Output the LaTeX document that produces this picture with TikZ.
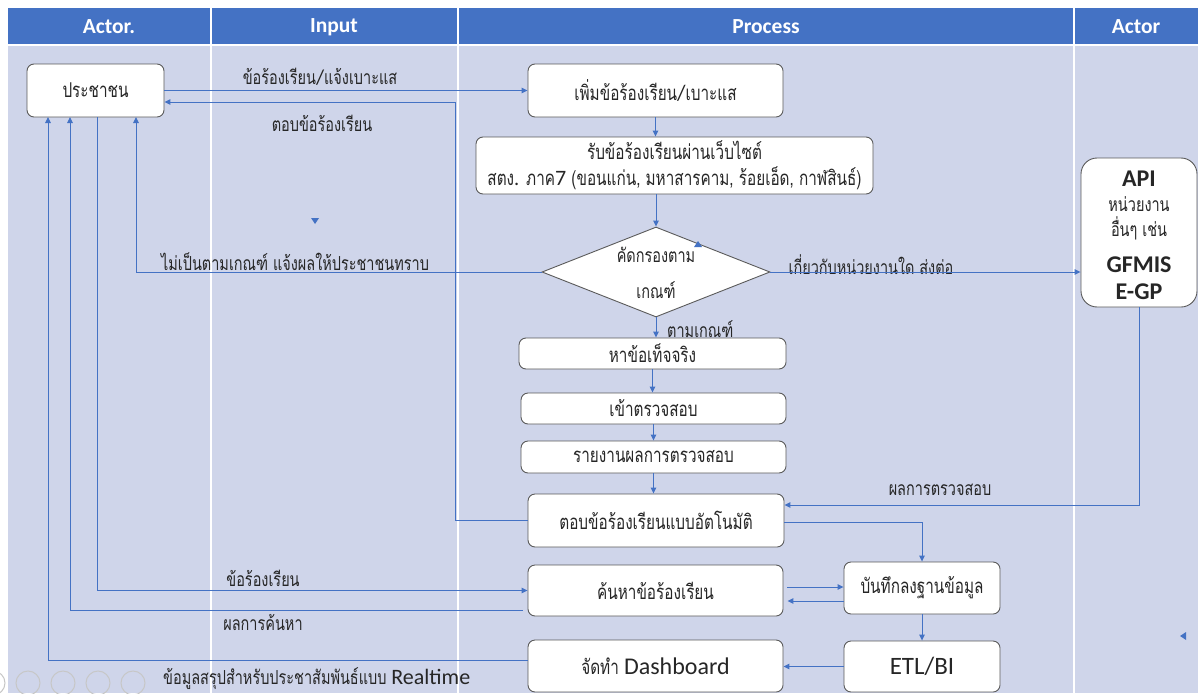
\documentclass[tikz,border=0pt]{standalone}
\usepackage{fontspec}
\setmainfont{Carlito}
\newfontfamily\thf[Script=Thai,FakeStretch=0.75]{Loma}
\newfontfamily\latf{Carlito}
\usetikzlibrary{arrows.meta,calc,shapes.geometric}
\definecolor{hdr}{HTML}{4472C4}
\definecolor{bodyc}{HTML}{CFD5EA}
\definecolor{lnc}{HTML}{4472C4}
\definecolor{bord}{HTML}{5A5A5A}
\definecolor{txt}{HTML}{262626}
\begin{document}
\begin{tikzpicture}[x=1pt,y=-1pt,
  box/.style={draw=bord,fill=white,rounded corners=7pt,line width=0.9pt,inner sep=0pt,align=center,text=txt,font=\thf\fontsize{20.4}{24}\selectfont},
  arr/.style={draw=lnc,line width=1pt,-{Triangle[length=6pt,width=5.5pt]}},
  lbl/.style={text=txt,inner sep=0pt,font=\thf\fontsize{19.3}{22}\selectfont},
  hd/.style={text=white,font=\latf\bfseries\fontsize{21.5}{24}\selectfont},
  big/.style={text=txt,inner sep=0pt,font=\latf\bfseries\fontsize{24}{26}\selectfont}
]
\useasboundingbox (0,0) rectangle (1198,693);
\fill[white] (0,0) rectangle (1198,693);
\fill[hdr] (8,8) rectangle (1198,44);
\fill[bodyc] (8,46) rectangle (1198,693);
\draw[white,line width=1.6pt] (211,8) -- (211,693) (458,8) -- (458,693) (1074,8) -- (1074,693);
\draw[white,line width=1.6pt] (8,45) -- (1198,45);

% header
\node[hd] (h1) at (109,27) {Actor.};
\node[hd] (h2) at (334,27) {Input};
\node[hd] (h3) at (766,27) {Process};
\node[hd] (h4) at (1136,27) {Actor};

% boxes
\node[box,minimum width=137pt,minimum height=53pt] (pr) at (95.5,90.5) {ประชาชน};
\node[box,minimum width=255pt,minimum height=53pt] (add) at (655.5,90.5) {เพิ่มข้อร้องเรียน{\latf\fontsize{22}{22}\selectfont/}เบาะแส};
\node[box,minimum width=397pt,minimum height=57pt] (web) at (674.5,165.5) {รับข้อร้องเรียนผ่านเว็บไซต์\\[2pt]สตง{\latf .} ภาค{\latf\fontsize{22}{22}\selectfont 7} (ขอนแก่น, มหาสารคาม, ร้อยเอ็ด, กาฬสินธ์)};
\node[draw=bord,fill=white,diamond,minimum width=228pt,minimum height=90pt,inner sep=0pt,line width=0.9pt] (dia) at (656,272) {};
\node[lbl] (d1) at (656,255) {คัดกรองตาม};
\node[lbl] (d2) at (656,290) {เกณฑ์};
\node[box,minimum width=267pt,minimum height=31pt] (fact) at (652.5,353.5) {หาข้อเท็จจริง};
\node[box,minimum width=265pt,minimum height=31pt] (insp) at (653.5,408.5) {เข้าตรวจสอบ};
\node[box,minimum width=265pt,minimum height=32pt] (rep) at (653.5,457) {รายงานผลการตรวจสอบ};
\node[box,minimum width=256pt,minimum height=53pt] (ans) at (656,520.5) {ตอบข้อร้องเรียนแบบอัตโนมัติ};
\node[box,minimum width=255pt,minimum height=51pt] (srch) at (655.5,590.5) {ค้นหาข้อร้องเรียน};
\node[box,minimum width=156pt,minimum height=52pt] (db) at (922,588) {บันทึกลงฐานข้อมูล};
\node[box,minimum width=156pt,minimum height=51pt,font=\latf\fontsize{25}{26}\selectfont] (etl) at (922,666.5) {ETL/BI};
\node[box,minimum width=255pt,minimum height=52pt] (dash) at (655.5,666) {จัดทำ {\latf\fontsize{24}{24}\selectfont Dashboard}};
\node[box,rounded corners=16pt,minimum width=116pt,minimum height=149pt] (api) at (1139,232.5) {};
\node[big] (a1) at (1139,179) {API};
\node[lbl] (a2) at (1139,204) {หน่วยงาน};
\node[lbl] (a3) at (1139,228) {อื่นๆ เช่น};
\node[big] (a4) at (1139,265) {GFMIS};
\node[big] (a5) at (1139,292) {E-GP};

% labels
\node[lbl] (l1) at (320,77) {ข้อร้องเรียน{\latf\fontsize{21}{21}\selectfont/}แจ้งเบาะแส};
\node[lbl] (l2) at (322,123) {ตอบข้อร้องเรียน};
\node[lbl] (l3) at (295,262) {ไม่เป็นตามเกณฑ์ แจ้งผลให้ประชาชนทราบ};
\node[lbl] (l4) at (871,265) {เกี่ยวกับหน่วยงานใด ส่งต่อ};
\node[lbl,anchor=west] (l5) at (667,329) {ตามเกณฑ์};
\node[lbl] (l6) at (940,490) {ผลการตรวจสอบ};
\node[lbl] (l7) at (263,578) {ข้อร้องเรียน};
\node[lbl] (l8) at (263,622) {ผลการค้นหา};
\node[lbl,anchor=west] (l9) at (163,679) {ข้อมูลสรุปสำหรับประชาสัมพันธ์แบบ {\latf\fontsize{22}{22}\selectfont Realtime}};

% coordinates on the bottom of pr
\coordinate (prb1) at (48,117);
\coordinate (prb2) at (70,117);
\coordinate (prb3) at (97,117);
\coordinate (prb4) at (136,117);
\coordinate (rt) at (455,102);

% connectors
\draw[arr] (pr.east) -- (add.west);
\draw[arr] (ans.west) -| (rt) -- (rt -| pr.east);
\draw[arr] (add.south) -- (add.south |- web.north);
\draw[arr] (dia.north |- web.south) -- (dia.north);
\draw[arr] (dia.west) -| (prb4);
\draw[arr] (dia.east) -- (dia.east -| api.west);
\draw[arr] (dia.south) -- (dia.south |- fact.north);
\draw[arr] (fact.south) -- (fact.south |- insp.north);
\draw[arr] (insp.south) -- (insp.south |- rep.north);
\draw[arr] (rep.south) -- (rep.south |- ans.north);
\draw[arr] (api.south) |- ($(ans.east)+(0,-15.5)$);
\draw[arr] ($(ans.east)+(0,1.5)$) -| (db.north);
\draw[arr] (prb3) |- (srch.west);
\draw[arr] ($(srch.west)+(-5,19.5)$) -| (prb2);
\draw[arr] ($(dash.west)+(0,-6)$) -| (prb1);
\draw[arr] ($(srch.east)+(4,-3.5)$) -- ($(srch.east -| db.west)+(0,-3.5)$);
\draw[arr] ($(srch.east -| db.west)+(0,10.5)$) -- ($(srch.east)+(4,10.5)$);
\draw[arr] (db.south) -- (etl.north);
\draw[arr] (etl.west) -- (etl.west -| dash.east);

% stray arrowheads
\fill[lnc] (311,218) -- (319,218) -- (315,224) -- cycle;
\fill[lnc] (694,247) -- (702,247) -- (698,241) -- cycle;
\fill[lnc] (1186,632) -- (1186,640) -- (1180,636) -- cycle;

% slide-show controls
\foreach \cx in {-7,28,63,98,133}
  \draw[black!22,line width=1pt] (\cx,683) circle (12pt);
\end{tikzpicture}
\end{document}
